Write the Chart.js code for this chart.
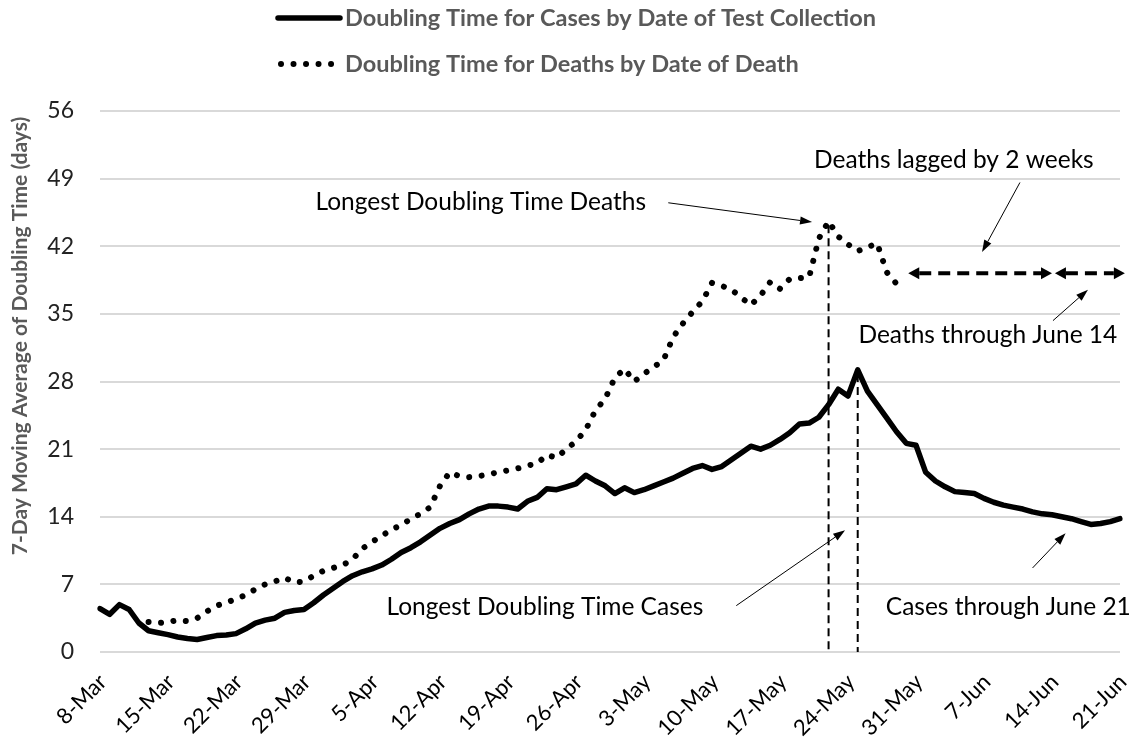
<!DOCTYPE html>
<html lang="en">
<head>
<meta charset="UTF-8">
<title>Doubling Time</title>
<script src="https://cdn.jsdelivr.net/npm/chart.js"></script>
<style>
  html, body { margin: 0; padding: 0; background: #fff; }
  canvas { display: block; }
</style>
</head>
<body>
<canvas id="doublingChart" width="1139" height="742"></canvas>
<script>
// daily categories, 8-Mar .. 21-Jun
const monthNames = ['Jan', 'Feb', 'Mar', 'Apr', 'May', 'Jun'];
const dayLabels = [];
for (let i = 0; i < 106; i++) {
    const d = new Date(2020, 2, 8 + i);
    dayLabels.push(d.getDate() + '-' + monthNames[d.getMonth()]);
}

const yTicks = [0, 7, 14, 21, 28, 35, 42, 49, 56];

// 7-day moving average of doubling time, cases (by test collection date)
const casesDoubling = [
    4.5, 3.9, 4.9, 4.4, 3.0, 2.2, 2.0, 1.8, 1.55, 1.4,
    1.3, 1.5, 1.7, 1.75, 1.9, 2.4, 3.0, 3.3, 3.5, 4.1,
    4.3, 4.4, 5.1, 5.9, 6.6, 7.3, 7.9, 8.3, 8.6, 9.0,
    9.6, 10.3, 10.8, 11.4, 12.1, 12.8, 13.3, 13.7, 14.3, 14.8,
    15.1, 15.1, 15.0, 14.8, 15.6, 16.0, 16.9, 16.8, 17.1, 17.4,
    18.3, 17.7, 17.2, 16.4, 17.0, 16.5, 16.8, 17.2, 17.6, 18.0,
    18.5, 19.0, 19.3, 18.9, 19.2, 19.9, 20.6, 21.3, 21.0, 21.4,
    22.0, 22.7, 23.6, 23.7, 24.3, 25.6, 27.2, 26.5, 29.2, 27.0,
    25.6, 24.2, 22.8, 21.6, 21.4, 18.6, 17.7, 17.1, 16.6, 16.5,
    16.4, 15.9, 15.5, 15.2, 15.0, 14.8, 14.5, 14.3, 14.2, 14.0,
    13.8, 13.5, 13.2, 13.3, 13.5, 13.8
];

// deaths (by date of death), 13-Mar .. 31-May, padded to the same categories
const deathsDoubling = [
    null, null, null, null, null, 3.1, 3.0, 3.1, 3.3, 3.2,
    3.5, 4.2, 4.8, 5.1, 5.5, 5.9, 6.5, 7.0, 7.3, 7.7,
    7.2, 7.3, 7.9, 8.4, 8.7, 9.0, 9.6, 10.7, 11.4, 12.0,
    12.7, 13.1, 13.8, 14.3, 15.0, 17.2, 18.6, 18.2, 18.1, 18.2,
    18.4, 18.6, 18.8, 19.0, 19.3, 19.5, 20.4, 20.1, 21.0, 21.8,
    23.0, 25.0, 26.2, 28.4, 29.3, 28.0, 28.8, 29.5, 30.2, 32.6,
    34.0, 35.2, 36.3, 38.2, 37.9, 37.5, 36.7, 35.9, 36.9, 38.3,
    37.6, 38.6, 38.7, 38.8, 42.8, 44.6, 43.0, 42.2, 41.5, 41.9,
    42.3, 39.3, 38.1, 38.0
];

// callouts, placed in data units (day index, days)
const notes = [
    { text: 'Longest Doubling Time Deaths', x: 39.2, y: 46.6 },
    { text: 'Deaths lagged by 2 weeks', x: 87.9, y: 50.9 },
    { text: 'Deaths through June 14', x: 91.4, y: 32.8 },
    { text: 'Longest Doubling Time Cases', x: 45.8, y: 4.7 },
    { text: 'Cases through June 21', x: 93.5, y: 4.7 }
];
const pointers = [
    { from: [58.5, 46.5], to: [73.3, 44.5] },
    { from: [94.7, 48.6], to: [90.8, 41.4] },
    { from: [98.1, 34.3], to: [101.7, 37.5] },
    { from: [65.5, 4.8], to: [76.7, 12.6] },
    { from: [96.0, 8.7], to: [99.4, 12.3] }
];
const spans = [
    { from: 83.2, to: 98.0, y: 39.2 },
    { from: 98.3, to: 105.5, y: 39.2 }
];

function arrowHead(ctx, x1, y1, x2, y2, len, wid) {
    const a = Math.atan2(y2 - y1, x2 - x1);
    const bx = x2 - len * Math.cos(a), by = y2 - len * Math.sin(a);
    ctx.beginPath();
    ctx.moveTo(x2, y2);
    ctx.lineTo(bx + wid / 2 * Math.sin(a), by - wid / 2 * Math.cos(a));
    ctx.lineTo(bx - wid / 2 * Math.sin(a), by + wid / 2 * Math.cos(a));
    ctx.closePath();
    ctx.fill();
    return [bx, by];
}

const annotationsPlugin = {
    id: 'annotations',
    afterDraw(chart) {
        const ctx = chart.ctx;
        const xs = chart.scales.x, ys = chart.scales.y;
        const px = v => xs.getPixelForValue(v);
        const py = v => ys.getPixelForValue(v);
        ctx.save();

        // legend, one row per series
        chart.data.datasets.forEach((ds, i) => {
            const rowY = 18 + i * 46;
            ctx.strokeStyle = ds.borderColor;
            ctx.lineWidth = ds.borderWidth;
            ctx.lineCap = ds.borderCapStyle || 'butt';
            ctx.setLineDash(ds.borderDash || []);
            ctx.beginPath();
            ctx.moveTo(ds.borderDash ? 281 : 278, rowY);
            ctx.lineTo(340, rowY);
            ctx.stroke();
            ctx.setLineDash([]);
            ctx.fillStyle = '#595959';
            ctx.font = 'bold 23.5px Lato';
            ctx.textAlign = 'left';
            ctx.textBaseline = 'middle';
            ctx.fillText(ds.label, 345, rowY);
        });
        ctx.lineCap = 'butt';

        // y axis title
        ctx.save();
        ctx.translate(20, 336);
        ctx.rotate(-Math.PI / 2);
        ctx.font = 'bold 21px Lato';
        ctx.fillStyle = '#595959';
        ctx.textAlign = 'center';
        ctx.textBaseline = 'middle';
        ctx.fillText('7-Day Moving Average of Doubling Time (days)', 0, 0);
        ctx.restore();

        // dashed drops from each peak
        const peaks = [casesDoubling, deathsDoubling].map(arr => {
            let best = 0;
            arr.forEach((v, i) => { if (v !== null && v > arr[best]) best = i; });
            return { i: best, v: arr[best] };
        });
        ctx.strokeStyle = '#000';
        ctx.lineWidth = 2;
        ctx.setLineDash([8, 5]);
        peaks.forEach(p => {
            ctx.beginPath();
            ctx.moveTo(px(p.i), py(p.v) + 4);
            ctx.lineTo(px(p.i), py(0));
            ctx.stroke();
        });
        ctx.setLineDash([]);

        // text callouts
        ctx.fillStyle = '#000';
        ctx.font = '24.5px Lato';
        ctx.textAlign = 'center';
        ctx.textBaseline = 'middle';
        notes.forEach(n => ctx.fillText(n.text, px(n.x), py(n.y)));

        // thin pointer arrows
        ctx.lineWidth = 1;
        pointers.forEach(p => {
            const x1 = px(p.from[0]), y1 = py(p.from[1]);
            const x2 = px(p.to[0]), y2 = py(p.to[1]);
            const base = arrowHead(ctx, x1, y1, x2, y2, 12, 8);
            ctx.beginPath();
            ctx.moveTo(x1, y1);
            ctx.lineTo(base[0], base[1]);
            ctx.stroke();
        });

        // thick dashed double arrows
        spans.forEach(s => {
            const x1 = px(s.from), x2 = px(s.to), y = py(s.y);
            arrowHead(ctx, x2, y, x1, y, 11, 12);
            arrowHead(ctx, x1, y, x2, y, 11, 12);
            ctx.lineWidth = 4;
            ctx.setLineDash([12, 7]);
            ctx.beginPath();
            ctx.moveTo(x1 + 11, y);
            ctx.lineTo(x2 - 11, y);
            ctx.stroke();
            ctx.setLineDash([]);
        });

        ctx.restore();
    }
};

new Chart(document.getElementById('doublingChart'), {
    type: 'line',
    data: {
        labels: dayLabels,
        datasets: [
            {
                label: 'Doubling Time for Cases by Date of Test Collection',
                data: casesDoubling,
                borderColor: '#000',
                borderWidth: 5.5,
                borderJoinStyle: 'round',
                borderCapStyle: 'round'
            },
            {
                label: 'Doubling Time for Deaths by Date of Death',
                data: deathsDoubling,
                borderColor: '#000',
                borderWidth: 6,
                borderDash: [0.01, 12.5],
                borderCapStyle: 'round',
                spanGaps: false
            }
        ]
    },
    options: {
        responsive: false,
        animation: false,
        layout: { padding: { top: 111, right: 19, left: 0, bottom: 0 } },
        elements: { point: { radius: 0 }, line: { tension: 0 } },
        plugins: { legend: { display: false }, tooltip: { enabled: false } },
        scales: {
            x: {
                grid: { display: false },
                border: { display: false },
                ticks: {
                    autoSkip: false,
                    minRotation: 45,
                    maxRotation: 45,
                    padding: 9,
                    labelOffset: 3,
                    color: '#000',
                    font: { family: 'Lato', size: 22 },
                    callback: (v, i) => (i % 7 === 0 ? dayLabels[i] : '')
                },
                afterFit: s => {
                    s.height = 90;
                    s.paddingLeft = 0;
                    s.paddingRight = 0;
                }
            },
            y: {
                min: yTicks[0],
                max: yTicks[yTicks.length - 1],
                afterBuildTicks: s => { s.ticks = yTicks.map(v => ({ value: v })); },
                grid: { color: '#d9d9d9', lineWidth: 2, drawTicks: false },
                border: { display: false },
                ticks: {
                    padding: 26,
                    color: '#222',
                    font: { family: 'Lato', size: 23 }
                },
                afterFit: s => { s.width = 100; }
            }
        }
    },
    plugins: [annotationsPlugin]
});
</script>
</body>
</html>
